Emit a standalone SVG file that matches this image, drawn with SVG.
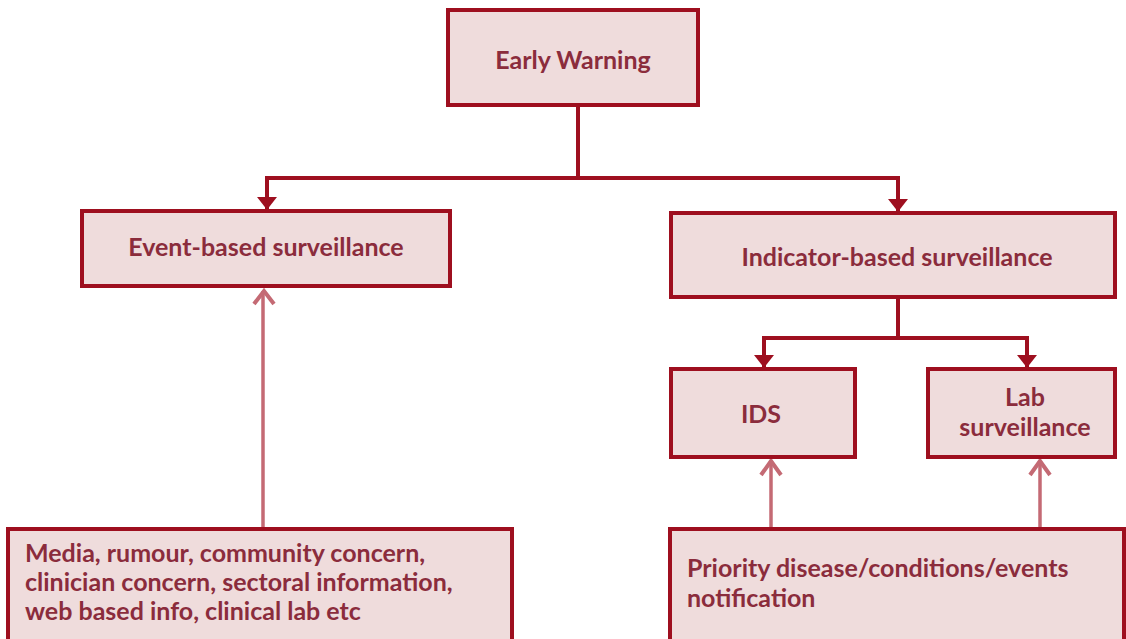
<svg xmlns="http://www.w3.org/2000/svg" width="1126" height="639" viewBox="0 0 1126 639">
<style>
.box{fill:#efdcdc;stroke:#9e0f1f;stroke-width:4}
.t{font-family:Lato,"Open Sans",sans-serif;font-weight:bold;font-size:25px;fill:#8b2c3c}
.c{text-anchor:middle}
.dk{fill:none;stroke:#9e0f1f;stroke-width:4}
.lt{fill:none;stroke:#c46a74;stroke-width:3.5}
.hd{fill:none;stroke:#c46a74;stroke-width:4;stroke-linejoin:miter}
</style>
<defs>
<marker id="ah" markerWidth="6" markerHeight="6" refX="3" refY="3" orient="auto" markerUnits="strokeWidth">
<path d="M0,0.5 L3.2,3 L0,5.5 Z" fill="#9e0f1f"/>
</marker>
</defs>
<g id="connectors">
<path class="dk" d="M578,105 V178"/>
<path class="dk" d="M578,178 H267 V209" marker-end="url(#ah)"/>
<path class="dk" d="M578,178 H898 V211" marker-end="url(#ah)"/>
<path class="dk" d="M898,297 V338"/>
<path class="dk" d="M898,338 H764 V367" marker-end="url(#ah)"/>
<path class="dk" d="M898,338 H1027 V367" marker-end="url(#ah)"/>
<path class="lt" d="M263,529 V291"/>
<path class="hd" d="M254,304 L264,291 L274,304"/>
<path class="lt" d="M771,529 V461"/>
<path class="hd" d="M761,475 L771,461 L781,475"/>
<path class="lt" d="M1040,529 V461"/>
<path class="hd" d="M1030,475 L1040,461 L1050,475"/>
</g>
<g id="early-warning">
<rect class="box" x="448" y="10" width="250" height="95"/>
<text class="t c" x="573" y="69">Early Warning</text>
</g>
<g id="event-based">
<rect class="box" x="82" y="211" width="368" height="75"/>
<text class="t c" x="266" y="256">Event-based surveillance</text>
</g>
<g id="indicator-based">
<rect class="box" x="671" y="213" width="444" height="84"/>
<text class="t c" x="897" y="266">Indicator-based surveillance</text>
</g>
<g id="ids">
<rect class="box" x="671" y="369" width="184" height="88"/>
<text class="t c" x="761" y="423">IDS</text>
</g>
<g id="lab">
<rect class="box" x="928" y="369" width="187" height="88"/>
<text class="t c" x="1025" y="406">Lab</text>
<text class="t c" x="1025" y="436">surveillance</text>
</g>
<g id="event-sources">
<rect class="box" x="8" y="529" width="504" height="120"/>
<text class="t" x="25" y="562">Media, rumour, community concern,</text>
<text class="t" x="25" y="591">clinician concern, sectoral information,</text>
<text class="t" x="25" y="620">web based info, clinical lab etc</text>
</g>
<g id="priority">
<rect class="box" x="670" y="529" width="454" height="120"/>
<text class="t" x="687" y="577">Priority disease/conditions/events</text>
<text class="t" x="687" y="607">notification</text>
</g>
</svg>
